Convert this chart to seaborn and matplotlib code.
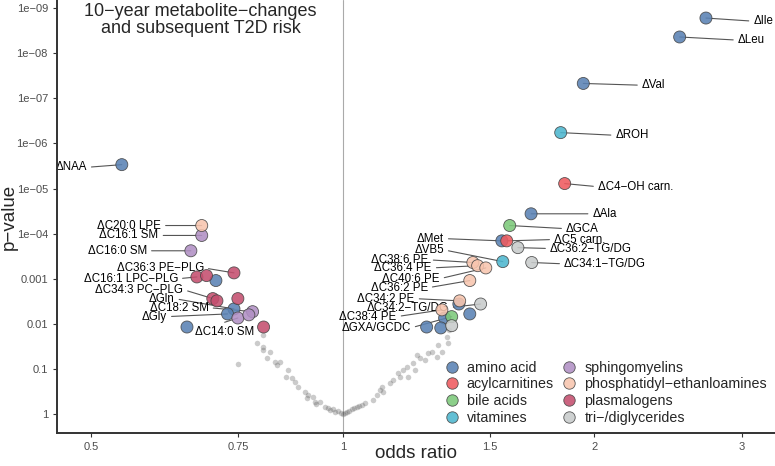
import numpy as np
import pandas as pd
import matplotlib
matplotlib.use('Agg')
import matplotlib.pyplot as plt
import seaborn as sns

# metabolitos com cor (classe), odds ratio e -log10(p)
nomes = ['ΔIle', 'ΔLeu', 'ΔVal', 'ΔAla', 'ΔMet', 'ΔNAA', 'ΔGln', 'ΔGly',
         'aa1', 'aa2', 'aa3', 'aa4', 'aa5', 'aa6', 'aa7',
         'ΔC4−OH carn.', 'ΔC5 carn.',
         'ΔGCA', 'ΔGXA/GCDC',
         'ΔROH', 'ΔVB5',
         'ΔC16:1 SM', 'ΔC16:0 SM', 'ΔC18:2 SM', 'ΔC14:0 SM', 'sm1',
         'ΔC20:0 LPE', 'ΔC38:6 PE', 'ΔC36:4 PE', 'ΔC40:6 PE', 'ΔC36:2 PE', 'ΔC34:2 PE', 'ΔC38:4 PE',
         'ΔC36:3 PE−PLG', 'ΔC16:1 LPC−PLG', 'ΔC34:3 PC−PLG', 'plg1', 'plg2', 'plg3', 'plg4',
         'ΔC36:2−TG/DG', 'ΔC34:1−TG/DG', 'ΔC34:2−TG/DG', 'tg1']
classes = (['amino acid'] * 15 + ['acylcarnitines'] * 2 + ['bile acids'] * 2
           + ['vitamines'] * 2 + ['sphingomyelins'] * 5
           + ['phosphatidyl−ethanloamines'] * 7 + ['plasmalogens'] * 7
           + ['tri−/diglycerides'] * 4)
odds = [2.72, 2.53, 1.94, 1.68, 1.55, 0.544, 0.741, 0.728,
        0.705, 0.651, 1.377, 1.419, 1.324, 1.260, 1.310,
        1.843, 1.571,
        1.584, 1.350,
        1.823, 1.554,
        0.678, 0.658, 0.780, 0.749, 0.772,
        0.678, 1.431, 1.450, 1.483, 1.419, 1.380, 1.314,
        0.741, 0.669, 0.699, 0.687, 0.707, 0.749, 0.804,
        1.620, 1.683, 1.462, 1.350]
neglogp = [8.78, 8.36, 7.33, 4.44, 3.84, 5.53, 2.33, 2.22,
           2.96, 1.93, 2.44, 2.22, 2.13, 1.93, 1.91,
           5.11, 3.84,
           4.18, 2.16,
           6.24, 3.38,
           3.96, 3.62, 2.27, 2.13, 2.20,
           4.18, 3.36, 3.29, 3.24, 2.96, 2.51, 2.31,
           3.13, 3.04, 2.56, 3.07, 2.51, 2.56, 1.93,
           3.69, 3.36, 2.44, 1.96]

# metabolitos nao significativos (cinza)
odds_ns = [0.749, 0.802, 0.789, 0.802, 0.802, 0.818, 0.811, 0.829, 0.841, 0.834,
           0.859, 0.855, 0.876, 0.869, 0.883, 0.901, 0.908, 0.906, 0.921, 0.926,
           0.939, 0.952, 0.960, 0.973, 0.986, 1.0, 0.965, 0.980, 0.995, 0.930,
           1.011, 1.025, 1.039, 1.054, 1.062, 1.086, 1.098, 1.107, 1.116, 1.113,
           1.138, 1.148, 1.170, 1.164, 1.180, 1.196, 1.193, 1.213, 1.226, 1.236,
           1.253, 1.219, 1.264, 1.278, 1.299, 1.313, 1.335, 1.295, 1.332, 1.339,
           1.005, 1.018, 1.032, 1.046]
neglogp_ns = [1.11, 1.76, 1.58, 1.49, 1.42, 1.38, 1.24, 1.16, 1.16, 1.09,
              0.98, 0.82, 0.71, 0.80, 0.60, 0.49, 0.42, 0.36, 0.38, 0.27,
              0.27, 0.16, 0.13, 0.11, 0.07, 0.0, 0.10, 0.05, 0.02, 0.22,
              0.04, 0.11, 0.16, 0.20, 0.24, 0.31, 0.42, 0.53, 0.49, 0.60,
              0.69, 0.76, 0.82, 0.91, 0.98, 0.82, 1.04, 1.13, 1.31, 1.24,
              1.20, 0.98, 1.36, 1.38, 1.53, 1.38, 1.58, 1.27, 1.71, 1.87,
              0.02, 0.07, 0.13, 0.18]

ordem = ['amino acid', 'acylcarnitines', 'bile acids', 'vitamines',
         'sphingomyelins', 'phosphatidyl−ethanloamines', 'plasmalogens', 'tri−/diglycerides']
cores = ['#5A82B4', '#EE5A5E', '#7CC97A', '#4DB6CF',
         '#B190C4', '#F8C5AE', '#C44E6E', '#C8CBCB']

x_ticks = [0.5, 0.75, 1, 1.5, 2, 3]
y_ticklabels = ['1', '0.1', '0.01', '0.001', '1e−04', '1e−05', '1e−06', '1e−07', '1e−08', '1e−09']

# posicao dos rotulos (odds ratio, -log10 p) e alinhamento
rotulos = {
    'ΔIle': (3.10, 8.71, 'left'), 'ΔLeu': (2.97, 8.29, 'left'), 'ΔVal': (2.28, 7.29, 'left'),
    'ΔROH': (2.12, 6.18, 'left'), 'ΔC4−OH carn.': (2.02, 5.04, 'left'), 'ΔAla': (1.99, 4.44, 'left'),
    'ΔGCA': (1.85, 4.11, 'left'), 'ΔC5 carn.': (1.79, 3.87, 'left'),
    'ΔC36:2−TG/DG': (1.77, 3.67, 'left'), 'ΔC34:1−TG/DG': (1.84, 3.33, 'left'),
    'ΔNAA': (0.494, 5.47, 'right'), 'ΔC20:0 LPE': (0.606, 4.18, 'right'),
    'ΔC16:1 SM': (0.602, 3.96, 'right'), 'ΔC16:0 SM': (0.583, 3.62, 'right'),
    'ΔC36:3 PE−PLG': (0.682, 3.24, 'right'), 'ΔC16:1 LPC−PLG': (0.635, 3.00, 'right'),
    'ΔC34:3 PC−PLG': (0.644, 2.76, 'right'), 'ΔGln': (0.629, 2.56, 'right'),
    'ΔC18:2 SM': (0.691, 2.36, 'right'), 'ΔGly': (0.616, 2.16, 'right'),
    'ΔC14:0 SM': (0.665, 1.82, 'left'),
    'ΔMet': (1.321, 3.89, 'right'), 'ΔVB5': (1.321, 3.64, 'right'),
    'ΔC38:6 PE': (1.267, 3.42, 'right'), 'ΔC36:4 PE': (1.278, 3.24, 'right'),
    'ΔC40:6 PE': (1.306, 3.00, 'right'), 'ΔC36:2 PE': (1.264, 2.80, 'right'),
    'ΔC34:2 PE': (1.219, 2.56, 'right'), 'ΔC34:2−TG/DG': (1.339, 2.36, 'right'),
    'ΔC38:4 PE': (1.160, 2.16, 'right'), 'ΔGXA/GCDC': (1.206, 1.91, 'right'),
}

df = pd.DataFrame({'nome': nomes, 'classe': classes, 'odds': odds, 'neglogp': neglogp})
df_ns = pd.DataFrame({'odds': odds_ns, 'neglogp': neglogp_ns})

sns.set_style('ticks')
plt.rcParams['font.family'] = ['Liberation Sans', 'DejaVu Sans']

fig = plt.figure(figsize=(7.75, 4.66), dpi=100)
ax = fig.add_axes([0.0735, 0.0708, 0.9265, 0.9292])

ax.axvline(1, color='#AAAAAA', lw=0.8, zorder=0)

sns.scatterplot(data=df_ns, x='odds', y='neglogp', color='#555555', alpha=0.3,
                s=16, linewidth=0, ax=ax, zorder=1)

# linhas e rotulos
for _, r in df.iterrows():
    if r['nome'] not in rotulos:
        continue
    tx, ty, ha = rotulos[r['nome']]
    ax.annotate(r['nome'], xy=(r['odds'], r['neglogp']), xytext=(tx, ty),
                ha=ha, va='center', fontsize=8.3, color='black',
                arrowprops=dict(arrowstyle='-', color='#555555', lw=0.8,
                                shrinkA=1, shrinkB=0,
                                relpos=(0, 0.5) if ha == 'left' else (1, 0.5)),
                zorder=2)

sns.scatterplot(data=df, x='odds', y='neglogp', hue='classe', hue_order=ordem,
                palette=cores, s=75, alpha=0.88, edgecolor='#444444', linewidth=0.6,
                ax=ax, zorder=3)

ax.set_xscale('log')
ax.set_xlim(0.455, 3.29)
ax.set_ylim(-0.42, 9.18)
ax.set_xticks(x_ticks)
ax.set_xticklabels([str(t) for t in x_ticks])
ax.xaxis.set_minor_locator(matplotlib.ticker.NullLocator())
ax.set_yticks(range(len(y_ticklabels)))
ax.set_yticklabels(y_ticklabels)
ax.tick_params(labelsize=8, labelcolor='#4D4D4D', color='#333333', length=3, width=0.8)
for lado in ['top', 'right']:
    ax.spines[lado].set_visible(False)
for lado in ['left', 'bottom']:
    ax.spines[lado].set_color('#333333')
    ax.spines[lado].set_linewidth(1.4)

ax.set_xlabel('odds ratio', fontsize=13.5)
ax.set_ylabel('p−value', fontsize=13.5)
ax.xaxis.set_label_coords(0.5, -0.027)
ax.yaxis.set_label_coords(-0.055, 0.5)

handles, labels = ax.get_legend_handles_labels()
ax.legend(handles, labels, ncol=2, loc='lower right', bbox_to_anchor=(1.0, 0.0),
          frameon=False, fontsize=10.3, handletextpad=0.05, columnspacing=0.1,
          labelspacing=0.2, markerscale=0.95, borderaxespad=0.15)

ax.text(0.2, 0.993, '10−year metabolite−changes\nand subsequent T2D risk',
        transform=ax.transAxes, ha='center', va='top', fontsize=13,
        linespacing=1.0)

fig.savefig('out.png', dpi=100)
